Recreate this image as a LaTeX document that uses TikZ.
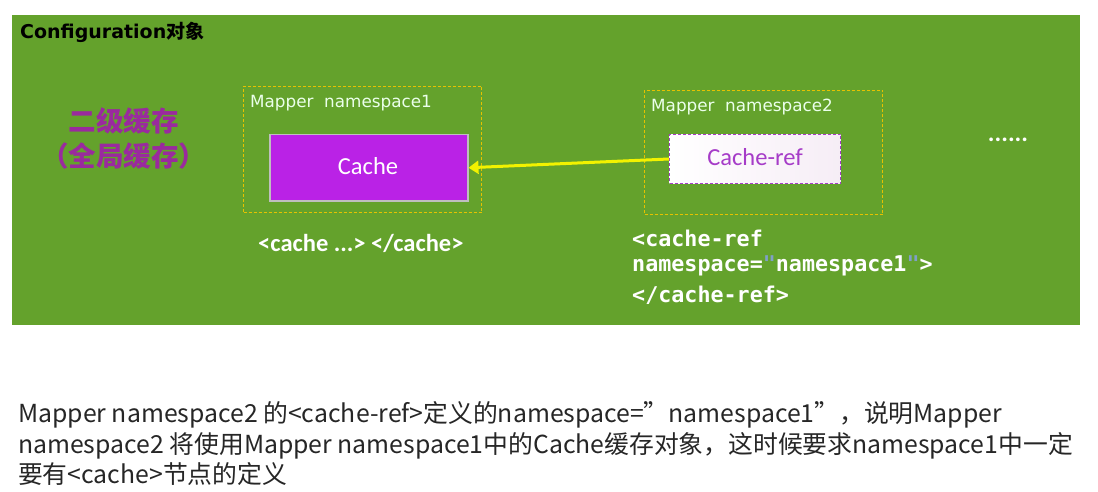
\documentclass[tikz,border=0pt]{standalone}
\usepackage{fontspec}
\setmainfont{Carlito}
\newfontfamily\cjk{Noto Sans CJK SC}
\newfontfamily\labfont{DejaVu Sans}
\newfontfamily\codefont{DejaVu Sans Mono}
\usetikzlibrary{arrows.meta}
\definecolor{cfggreen}{HTML}{64A22C}
\definecolor{dashgold}{HTML}{E6C200}
\definecolor{cachepurple}{HTML}{BA22E6}
\definecolor{titlepurple}{HTML}{9A2A9E}
\definecolor{refpurple}{HTML}{A63CC8}
\definecolor{arrowyellow}{HTML}{F2F200}
\definecolor{quoteblue}{HTML}{7FA0C8}
\tikzset{
  mapperbox/.style={draw=dashgold, densely dashed, line width=1pt, inner sep=0pt},
  maplabel/.style={anchor=west, text=white!92!green, font=\labfont\fontsize{16.8}{19}\selectfont, inner sep=0pt},
  codetext/.style={anchor=west, text=white, font=\codefont\bfseries\fontsize{21.7}{25}\selectfont, inner sep=0pt},
  bottomtext/.style={anchor=west, text=black!85, font=\cjk\fontsize{24.8}{29}\selectfont, inner sep=0pt},
}
\begin{document}
\begin{tikzpicture}[x=1pt,y=-1pt]
\useasboundingbox (0,0) rectangle (1098,492);
\fill[white] (0,0) rectangle (1098,492);
% configuration panel
\node[fill=cfggreen, inner sep=0pt, minimum width=1068pt, minimum height=310pt, anchor=north west] (config) at (12,15) {};
\node[anchor=west, inner sep=0pt, font=\labfont\bfseries\fontsize{19}{22}\selectfont] (cfglabel) at (20,32) {Configuration{\cjk\bfseries 对象}};
% left title
\node[text=titlepurple, font=\cjk\bfseries\fontsize{27.5}{35}\selectfont, align=center, inner sep=0pt] (title) at (124,139) {二级缓存\\（全局缓存）};
% mapper 1
\node[mapperbox, minimum width=238pt, minimum height=126pt, anchor=north west] (m1) at (243,86) {};
\node[maplabel] (m1label) at (250,103) {Mapper\ \ namespace1};
\node[fill=cachepurple, draw=black!25, line width=1.5pt, minimum width=198pt, minimum height=66pt, inner sep=0pt, anchor=north west] (cache) at (269,134) {};
\node[text=white, font=\fontsize{24.5}{28}\selectfont, inner sep=0pt] (cachetext) at (368,166) {Cache};
% mapper 2
\node[mapperbox, minimum width=238pt, minimum height=124pt, anchor=north west] (m2) at (644,90) {};
\node[maplabel] (m2label) at (651,107) {Mapper\ \ namespace2};
\node[left color=white, right color=white!93!violet, draw=refpurple, densely dashed, line width=1pt, minimum width=171pt, minimum height=49pt, inner sep=0pt, anchor=north west] (cacheref) at (669,134) {};
\node[text=refpurple, font=\fontsize{24.5}{28}\selectfont, inner sep=0pt] (cachereftext) at (755,157) {Cache-ref};
% arrow
\draw[arrowyellow, line width=3pt, -{Triangle[length=10pt,width=13pt]}] (cacheref.west) -- (cache.east);
% dots
\node[text=white, font=\bfseries\fontsize{25}{28}\selectfont, inner sep=0pt] (dots) at (1008,140) {......};
% code texts
\node[anchor=west, text=white, font=\bfseries\fontsize{24.5}{28}\selectfont, inner sep=0pt] (cachecode) at (258,243) {<cache ...> </cache>};
\node[codetext] (code1) at (632,238) {<cache-ref};
\node[codetext] (code2) at (632,266) {namespace=\textcolor{quoteblue}{"}namespace1\textcolor{quoteblue}{"}>};
\node[codetext] (code3) at (632,295) {</cache-ref>};
% bottom explanation
\node[bottomtext] (b1) at (18,415) {Mapper namespace2 的<cache-ref>定义的namespace=”namespace1”，说明Mapper};
\node[bottomtext] (b2) at (18,446) {namespace2 将使用Mapper namespace1中的Cache缓存对象，这时候要求namespace1中一定};
\node[bottomtext] (b3) at (18,474) {要有<cache>节点的定义};
\end{tikzpicture}
\end{document}
